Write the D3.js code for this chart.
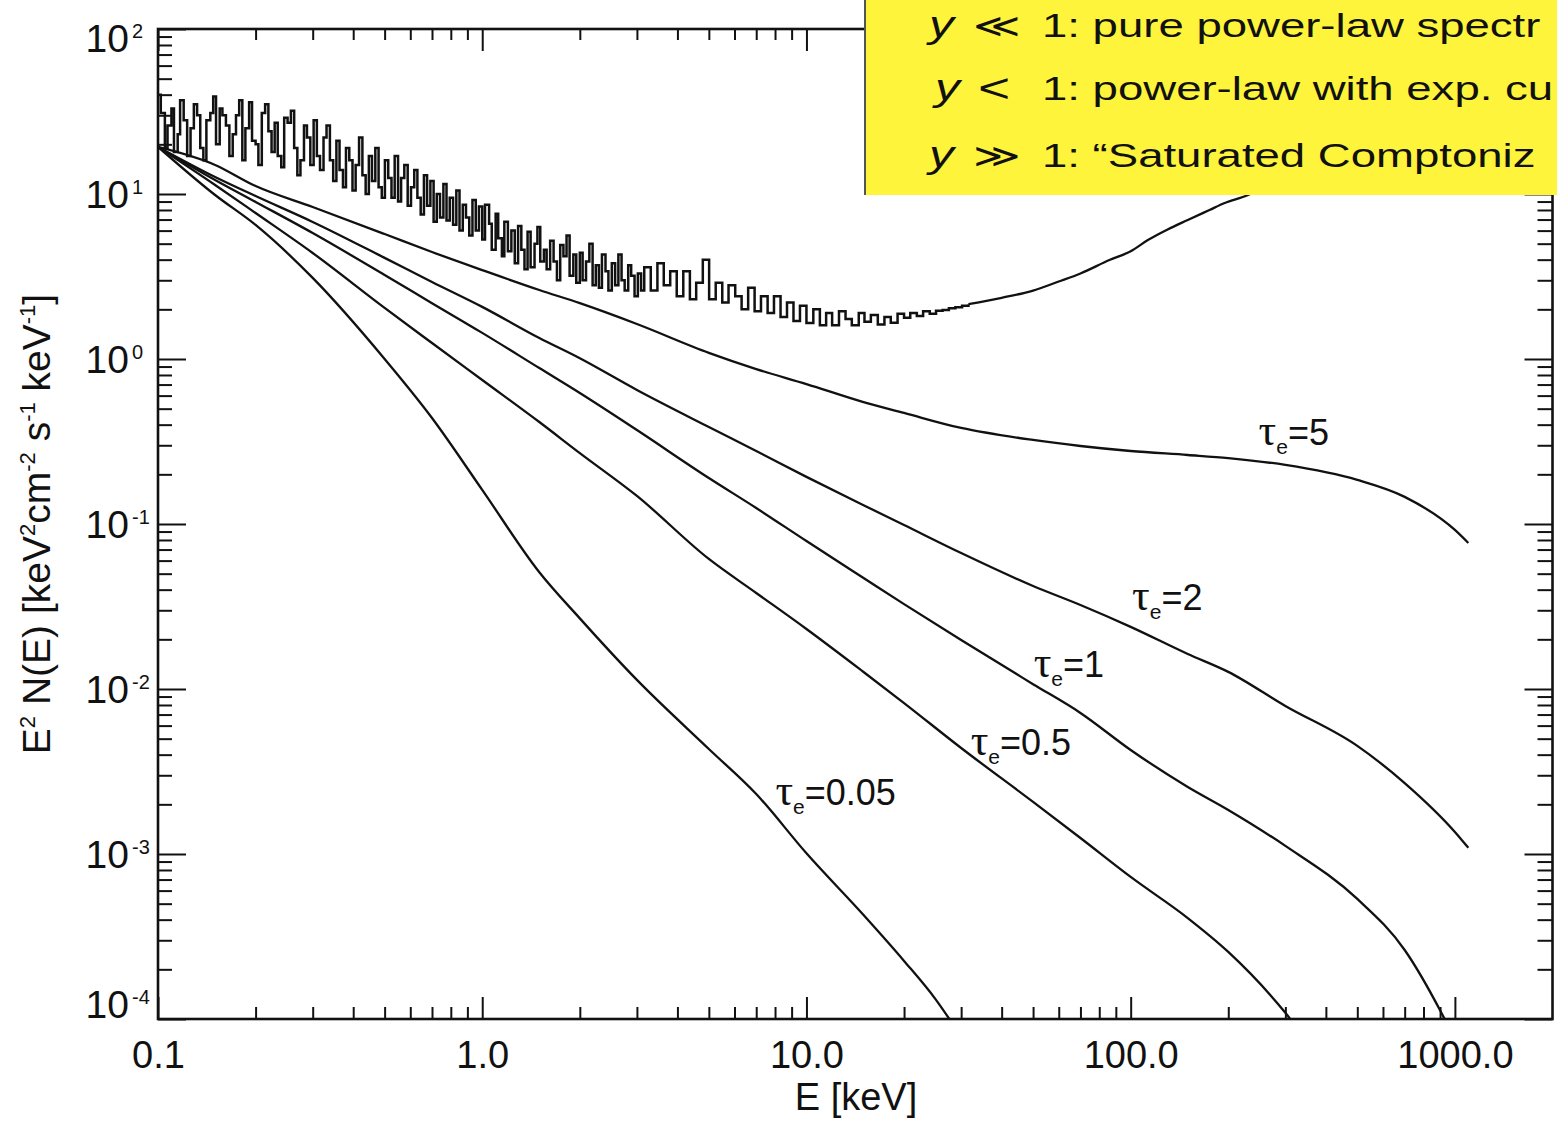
<!DOCTYPE html>
<html><head><meta charset="utf-8">
<script src="https://cdn.jsdelivr.net/npm/d3@7"></script>
<style>
html,body{margin:0;padding:0;background:#fff;overflow:hidden;}
svg{display:block;}
text{font-family:"Liberation Sans", Arial, Helvetica, sans-serif; fill:#111;}
</style></head><body>
<svg id="chart" width="1557" height="1121"></svg>
<script>
// ---------------- data ----------------
const xMajorTicks = [0.1, 1, 10, 100, 1000];
const xTickLabels = ["0.1", "1.0", "10.0", "100.0", "1000.0"];
const yMajorTicks = [100, 10, 1, 0.1, 0.01, 0.001, 0.0001];
const yTickExponents = ["2", "1", "0", "-1", "-2", "-3", "-4"];

// smooth Comptonised spectra, E [keV] and E^2 N(E)
const energy = [0.1, 0.15, 0.2, 0.3, 0.5, 0.7, 1, 1.5, 2, 3, 5, 7, 10, 15, 20, 30, 50, 70, 100, 150, 200, 300, 500, 700, 1000, 1100];
const tau5Flux = [19.3, 15.0, 11.17, 8.34, 5.72, 4.45, 3.46, 2.62, 2.18, 1.63, 1.09, 0.869, 0.705, 0.548, 0.471, 0.382, 0.323, 0.297, 0.277, 0.262, 0.251, 0.228, 0.185, 0.146, 0.092, 0.0767];
const tau2Flux = [19.3, 12.68, 9.72, 6.77, 4.10, 2.93, 2.07, 1.34, 1.01, 0.649, 0.387, 0.277, 0.193, 0.130, 0.0986, 0.0667, 0.0421, 0.0323, 0.0238, 0.0163, 0.0127, 0.00789, 0.00452, 0.00269, 0.00136, 0.00109];
const tau1Energy = [0.1, 0.15, 0.2, 0.3, 0.5, 0.7, 1, 1.5, 2, 3, 5, 7, 10, 15, 20, 30, 50, 70, 100, 150, 200, 300, 500, 700, 900, 950];
const tau1Flux = [19.3, 12.16, 8.95, 5.80, 3.23, 2.18, 1.44, 0.881, 0.622, 0.371, 0.190, 0.125, 0.0789, 0.0471, 0.0327, 0.0198, 0.0107, 0.00716, 0.00427, 0.00255, 0.00185, 0.00112, 0.000534, 0.000262, 0.000113, 0.000092];
const tau05Energy = [0.1, 0.15, 0.2, 0.3, 0.5, 0.7, 1, 1.5, 2, 3, 5, 7, 10, 15, 20, 30, 50, 70, 100, 150, 200, 300, 330];
const tau05Flux = [19.3, 11.35, 7.67, 4.39, 2.04, 1.25, 0.746, 0.415, 0.269, 0.148, 0.0614, 0.0382, 0.0231, 0.01268, 0.00822, 0.00439, 0.00207, 0.00125, 0.000726, 0.000409, 0.000255, 0.000109, 0.0000858];
const tau005Energy = [0.1, 0.15, 0.2, 0.3, 0.5, 0.7, 1, 1.5, 2, 3, 5, 7, 10, 15, 20, 25, 28];
const tau005Flux = [19.3, 9.86, 6.49, 3.10, 1.00, 0.439, 0.161, 0.051, 0.0268, 0.01135, 0.00433, 0.00231, 0.00101, 0.000427, 0.000225, 0.000132, 0.0000959];

// noisy (saturated) spectrum: fine histogram bins 0.1 - 3.1 keV
const noisyEnergy = [
 0.100,0.102,0.105,0.107,0.110,0.112,0.115,0.117,0.120,0.123,
 0.126,0.129,0.132,0.135,0.138,0.141,0.145,0.148,0.151,0.155,
 0.158,0.162,0.166,0.170,0.174,0.178,0.182,0.186,0.191,0.195,
 0.200,0.204,0.209,0.214,0.219,0.224,0.229,0.234,0.240,0.245,
 0.251,0.257,0.263,0.269,0.275,0.282,0.288,0.295,0.302,0.309,
 0.316,0.324,0.331,0.339,0.347,0.355,0.363,0.372,0.380,0.389,
 0.398,0.407,0.417,0.427,0.437,0.447,0.457,0.468,0.479,0.490,
 0.501,0.513,0.525,0.537,0.550,0.562,0.575,0.589,0.603,0.617,
 0.631,0.646,0.661,0.676,0.692,0.708,0.724,0.741,0.759,0.776,
 0.794,0.813,0.832,0.851,0.871,0.891,0.912,0.933,0.955,0.977,
 1.00,1.02,1.05,1.07,1.10,1.12,1.15,1.17,1.20,1.23,
 1.26,1.29,1.32,1.35,1.38,1.41,1.45,1.48,1.51,1.55,
 1.58,1.62,1.66,1.70,1.74,1.78,1.82,1.86,1.91,1.95,
 2.00,2.04,2.09,2.14,2.19,2.24,2.29,2.34,2.40,2.45,
 2.51,2.57,2.63,2.69,2.75,2.82,2.88,2.95,3.02,3.09];
const noisyFlux = [
 40,31,19,26,33,18,23,37,28,17,
 25,35,30,19,16,28,31,39,20,33,
 30,26,17,23,30,37,16,25,36,21,
 20,15,31,35,24,18,27,17,14.5,29,
 27,32,19,13,16,26,22,15,28,17,
 14,22,26,16,12,21,14,11,19,16,
 10.5,15,22,13,10,17,12,19,11,9.5,
 16,12.5,9.5,17,9,12.5,15,8.5,11,14,
 9.5,7.5,13,8.5,12,6.8,10,7.2,11.5,6.9,
 9.5,6.5,10.5,6.0,8.6,7.2,5.6,9.2,6.0,8.4,
 5.3,8.6,6.6,4.6,7.6,5.4,4.2,6.8,4.5,6.0,
 3.8,6.4,4.6,3.5,5.9,3.6,5.0,6.3,3.9,4.6,
 3.5,5.2,3.9,3.0,4.9,4.2,5.6,3.2,4.3,2.9,
 4.4,3.0,3.9,5.0,2.8,3.7,2.7,4.3,3.4,2.6,
 3.8,2.8,4.3,3.0,2.6,3.7,3.2,2.4,3.3,2.6];
// coarser bins 3.16 - 31.6 keV
const midEnergy = [
 3.16,3.31,3.47,3.63,3.80,3.98,4.17,4.37,4.57,4.79,
 5.01,5.25,5.50,5.75,6.03,6.31,6.61,6.92,7.24,7.59,
 7.94,8.32,8.71,9.12,9.55,10.0,10.5,11.0,11.5,12.0,
 12.6,13.2,13.8,14.5,15.1,15.8,16.6,17.4,18.2,19.1,
 20.0,20.9,21.9,22.9,24.0,25.1,26.3,27.5,28.8,30.2,31.6];
const midFlux = [
 3.6,2.6,3.8,2.8,3.4,2.4,3.4,2.3,2.9,4.0,
 2.3,2.9,2.2,2.8,2.4,2.0,2.7,1.95,2.4,1.9,
 2.4,1.8,2.2,1.7,2.1,1.65,2.0,1.6,1.9,1.6,
 1.95,1.75,1.6,1.9,1.68,1.85,1.62,1.8,1.66,1.88,
 1.78,1.9,1.82,1.95,1.88,1.96,1.98,2.03,2.06,2.1,2.15];
const risingEnergy = [31.6, 40, 50, 60, 70, 86, 100, 113, 130, 150, 175, 195, 230, 260, 300];
const risingFlux = [2.15, 2.35, 2.6, 2.95, 3.3, 3.98, 4.5, 5.26, 6.1, 6.96, 8.0, 8.82, 9.86, 11.2, 13];

// curve labels (anchored in data units)
const labelTau = ["5", "2", "1", "0.5", "0.05"];
const labelE = [248, 101, 50.2, 32.1, 8.02];
const labelFlux = [0.301, 0.0301, 0.0118, 0.00398, 0.00198];

// yellow box text (as far as it is visible)
const boxRel = ["\u226A", "<", "\u226B"];
const boxText = ["1: pure power-law spectr", "1: power-law with exp. cu", "1: \u201CSaturated Comptoniz"];

// ---------------- chart ----------------
const svg = d3.select("#chart");
const L = 158, R = 1552.5, T = 29, B = 1019;
const x = d3.scaleLog().domain([0.1, 2000]).range([L, R]);
const y = d3.scaleLog().domain([1e-4, 100]).range([B, T]);

const defs = svg.append("defs");
defs.append("clipPath").attr("id", "plotclip")
  .append("rect").attr("x", L).attr("y", T).attr("width", R - L).attr("height", B - T);

const xMinor = [], yMinor = [];
[0.1, 1, 10, 100, 1000].forEach(d => { for (let k = 2; k <= 9; k++) if (d * k < 2000) xMinor.push(d * k); });
[1e-4, 1e-3, 1e-2, 1e-1, 1, 10].forEach(d => { for (let k = 2; k <= 9; k++) yMinor.push(d * k); });

function styleAxis(g) { g.select(".domain").remove(); g.selectAll(".tick line").attr("stroke", "#111").attr("stroke-width", 2); }

svg.append("g").attr("transform", `translate(0,${B})`)
  .call(d3.axisBottom(x).tickValues(xMajorTicks).tickSize(-22).tickPadding(22)
    .tickFormat((d, i) => xTickLabels[i]))
  .call(styleAxis)
  .call(g => g.selectAll("text").attr("font-size", 38).attr("fill", "#111").attr("font-family", "Liberation Sans, Arial, sans-serif"));
svg.append("g").attr("transform", `translate(0,${B})`)
  .call(d3.axisBottom(x).tickValues(xMinor).tickSize(-12).tickFormat("")).call(styleAxis);
svg.append("g").attr("transform", `translate(0,${T})`)
  .call(d3.axisTop(x).tickValues(xMajorTicks).tickSize(-22).tickFormat("")).call(styleAxis);
svg.append("g").attr("transform", `translate(0,${T})`)
  .call(d3.axisTop(x).tickValues(xMinor).tickSize(-11).tickFormat("")).call(styleAxis);
svg.append("g").attr("transform", `translate(${L},0)`)
  .call(d3.axisLeft(y).tickValues(yMajorTicks).tickSize(-28).tickFormat("")).call(styleAxis);
svg.append("g").attr("transform", `translate(${L},0)`)
  .call(d3.axisLeft(y).tickValues(yMinor).tickSize(-14).tickFormat("")).call(styleAxis);
svg.append("g").attr("transform", `translate(${R},0)`)
  .call(d3.axisRight(y).tickValues(yMajorTicks).tickSize(-28).tickFormat("")).call(styleAxis);
svg.append("g").attr("transform", `translate(${R},0)`)
  .call(d3.axisRight(y).tickValues(yMinor).tickSize(-15).tickFormat("")).call(styleAxis);

svg.append("rect").attr("x", L).attr("y", T).attr("width", R - L).attr("height", B - T)
  .attr("fill", "none").attr("stroke", "#111").attr("stroke-width", 2.6);

// y tick labels with superscripts
const yl = svg.append("g");
yMajorTicks.forEach((v, i) => {
  let base = y(v) + 14;
  if (i === 0) base = y(v) + 23;
  if (i === yMajorTicks.length - 1) base = y(v) - 1;
  yl.append("text").attr("x", 129).attr("y", base).attr("text-anchor", "end")
    .attr("font-size", 39).text("10");
  yl.append("text").attr("x", 132).attr("y", base - 14).attr("text-anchor", "start")
    .attr("font-size", 20).text(yTickExponents[i]);
});

// axis titles
svg.append("text").attr("x", 856).attr("y", 1110).attr("text-anchor", "middle")
  .attr("font-size", 38).text("E [keV]");
const yt = svg.append("text").attr("transform", "translate(50,524) rotate(-90)")
  .attr("text-anchor", "middle").attr("font-size", 39);
const parts = [["E", 0], ["2", 1], [" N(E) [keV", 0], ["2", 1], ["cm", 0], ["-2", 1], [" s", 0], ["-1", 1], [" keV", 0], ["-1", 1], ["]", 0]];
let sup = false;
parts.forEach(([t, s]) => {
  const ts = yt.append("tspan").text(t);
  if (s && !sup) { ts.attr("dy", -15).attr("font-size", 22); sup = true; }
  else if (s) { ts.attr("font-size", 22); }
  else if (sup) { ts.attr("dy", 15); sup = false; }
});

// curves
const plot = svg.append("g").attr("clip-path", "url(#plotclip)");
const smooth = d3.line().x(d => x(d[0])).y(d => y(d[1])).curve(d3.curveMonotoneX);
const step = d3.line().x(d => x(d[0])).y(d => y(d[1])).curve(d3.curveStepAfter);
const series = [
  [energy, tau5Flux], [energy, tau2Flux], [tau1Energy, tau1Flux],
  [tau05Energy, tau05Flux], [tau005Energy, tau005Flux]
];
series.forEach(([es, vs]) => {
  plot.append("path").datum(es.map((e, i) => [e, vs[i]]))
    .attr("d", smooth).attr("fill", "none").attr("stroke", "#111").attr("stroke-width", 2.3);
});
const noisyPts = noisyEnergy.map((e, i) => [e, noisyFlux[i]]).concat(midEnergy.map((e, i) => [e, midFlux[i]]));
plot.append("path").datum(noisyPts)
  .attr("d", step).attr("fill", "none").attr("stroke", "#111").attr("stroke-width", 2.5);
plot.append("path").datum(risingEnergy.map((e, i) => [e, risingFlux[i]]))
  .attr("d", smooth).attr("fill", "none").attr("stroke", "#111").attr("stroke-width", 2.3);

// curve labels
labelTau.forEach((t, i) => {
  const tx = svg.append("text").attr("x", x(labelE[i])).attr("y", y(labelFlux[i])).attr("font-size", 36);
  tx.append("tspan").attr("font-family", "Liberation Serif, Times New Roman, serif").attr("font-size", 44).text("\u03C4");
  tx.append("tspan").attr("font-size", 21).attr("dy", 9).text("e");
  tx.append("tspan").attr("dy", -9).text("=" + t);
});

// yellow box
const bx = 865;
defs.append("clipPath").attr("id", "boxclip")
  .append("rect").attr("x", bx).attr("y", 0).attr("width", 1557 - bx).attr("height", 195);
svg.append("rect").attr("x", bx).attr("y", -2).attr("width", 1557 - bx + 5).attr("height", 197)
  .attr("fill", "#fff43c");
svg.append("line").attr("x1", bx).attr("x2", bx).attr("y1", 0).attr("y2", 195)
  .attr("stroke", "#555").attr("stroke-width", 2);
const box = svg.append("g").attr("clip-path", "url(#boxclip)");
const baselines = [37, 100, 167];
const yOff = [0, 4.3, 0];
const relX = [31.9, 35.5, 31.9];
const relSize = [33, 40, 33];
boxText.forEach((t, i) => {
  const g = box.append("g").attr("transform", `translate(929,${baselines[i]}) scale(1.38,1)`);
  g.append("text").attr("x", yOff[i]).attr("y", 0).attr("font-size", 36)
    .attr("font-family", "Liberation Serif, Times New Roman, serif").attr("font-style", "italic").text("y");
  g.append("text").attr("x", relX[i]).attr("y", i === 1 ? 2 : 0).attr("font-size", relSize[i])
    .attr("font-family", "DejaVu Sans, sans-serif").text(boxRel[i]);
  g.append("text").attr("x", 81.9).attr("y", 0).attr("font-size", 33).text(t);
});
</script>
</body></html>
